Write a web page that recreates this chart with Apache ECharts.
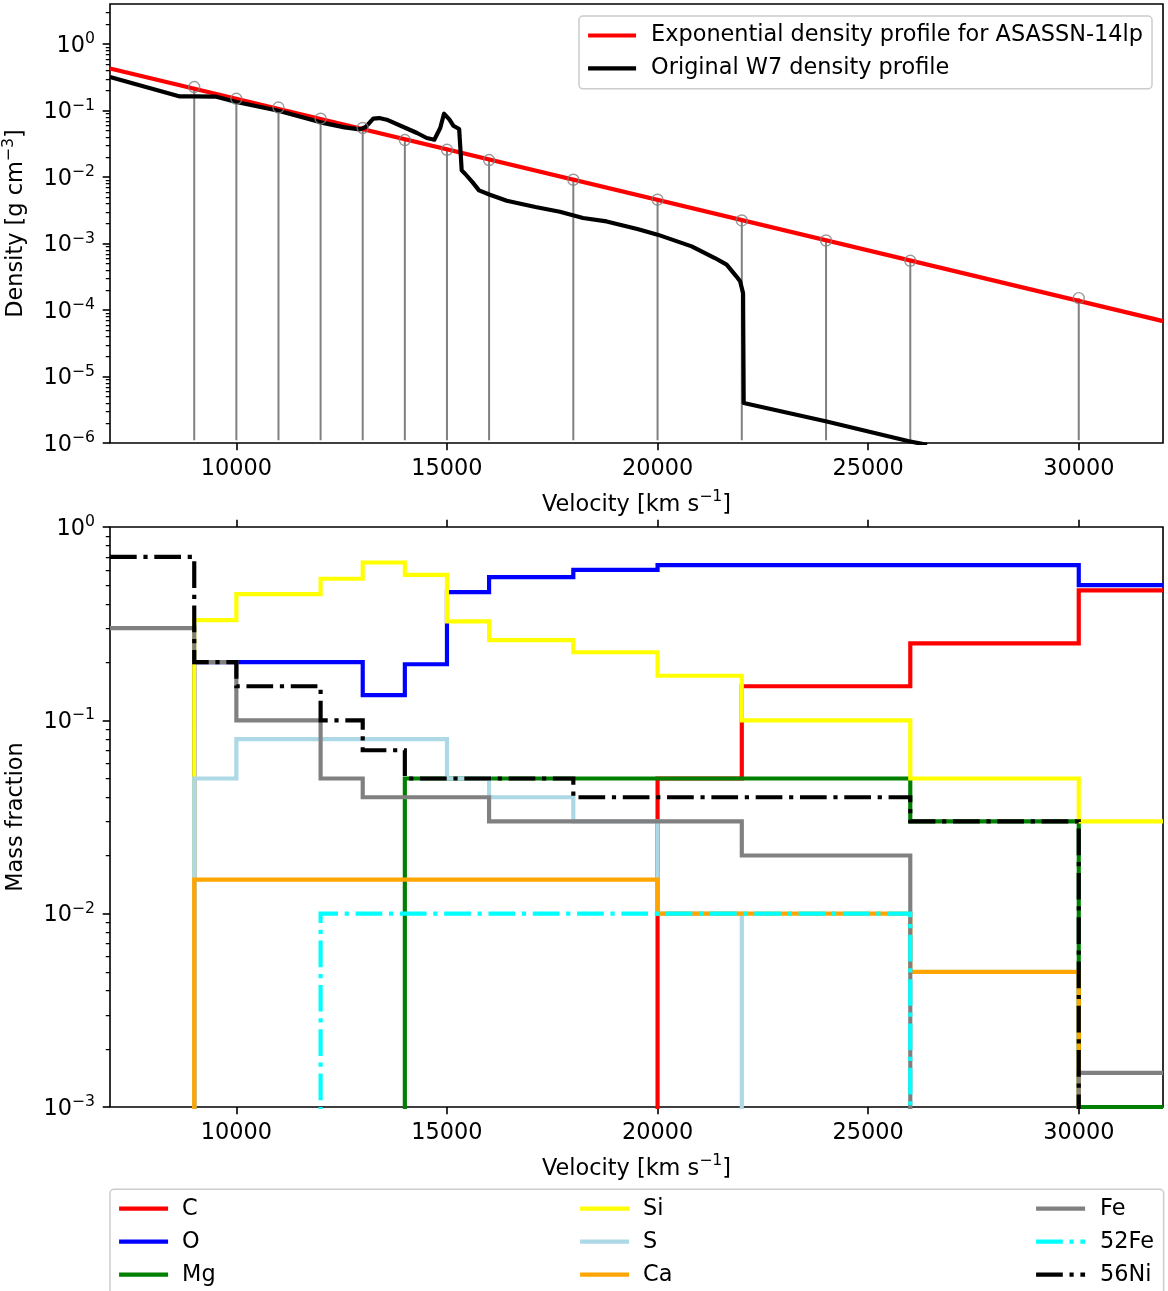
<!DOCTYPE html>
<html>
<head>
<meta charset="utf-8">
<script src="https://cdn.jsdelivr.net/npm/echarts@6/dist/echarts.min.js"></script>
<style>html,body{margin:0;padding:0;background:#fff}#c{width:1168px;height:1291px}</style>
</head>
<body>
<div id="c"></div>
<script>
// ---------------- data: top panel ----------------
const expVelocity = [7000, 32000];
const expDensity = [0.43, 6.8e-5];

const shellVelocity = [9000, 10000, 11000, 12000, 13000, 14000, 15000, 16000, 18000, 20000, 22000, 24000, 26000, 30000];
const shellDensity = [0.2256, 0.150, 0.111, 0.0753, 0.0546, 0.036, 0.0257, 0.018, 0.0091, 0.00456, 0.00222, 0.00111, 0.00055, 0.000151];
const stemBase = 1.1e-6;

const w7Velocity = [7000, 7850, 8660, 9000, 9500, 10000, 11000, 12000, 12570, 12930, 13070, 13250, 13390, 13570, 14020, 14290, 14520, 14700, 14840, 14930, 15060, 15150, 15290, 15350, 15430, 15610, 15760, 16020, 16420, 17100, 17680, 18230, 18790, 19520, 20000, 20810, 21360, 21640, 21870, 21960, 22030, 22045, 23990, 25970, 26400];
const w7Density = [0.32, 0.226, 0.163, 0.163, 0.162, 0.134, 0.0994, 0.0664, 0.0558, 0.052, 0.0565, 0.0754, 0.077, 0.0728, 0.0546, 0.0459, 0.0386, 0.0364, 0.0546, 0.0896, 0.0728, 0.0591, 0.0527, 0.0126, 0.0112, 0.0083, 0.0063, 0.00542, 0.0044, 0.00354, 0.0030, 0.00242, 0.00215, 0.00165, 0.00136, 0.000906, 0.000605, 0.000481, 0.000321, 0.00027, 0.00018, 4.0e-6, 2.12e-6, 1.06e-6, 9.4e-7];

// ---------------- data: bottom panel ----------------
// shell inner edges (value holds until next edge); last entry = right end of plot
const edgeVelocity = [7000, 9000, 10000, 11000, 12000, 13000, 14000, 15000, 16000, 18000, 20000, 22000, 24000, 26000, 30000, 32000];
const fracC    = [0, 0, 0, 0, 0, 0, 0, 0, 0, 0, 0.05, 0.15, 0.15, 0.25, 0.47];
const fracO    = [0, 0.2, 0.2, 0.2, 0.2, 0.135, 0.195, 0.46, 0.55, 0.6, 0.635, 0.635, 0.635, 0.635, 0.5];
const fracMg   = [0, 0, 0, 0, 0, 0, 0.05, 0.05, 0.05, 0.05, 0.05, 0.05, 0.05, 0.03, 0.001];
const fracSi   = [0, 0.33, 0.45, 0.45, 0.54, 0.655, 0.565, 0.325, 0.26, 0.225, 0.17, 0.1, 0.1, 0.05, 0.03];
const fracS    = [0, 0.05, 0.08, 0.08, 0.08, 0.08, 0.08, 0.05, 0.04, 0.03, 0.01, 0, 0, 0, 0];
const fracCa   = [0, 0.015, 0.015, 0.015, 0.015, 0.015, 0.015, 0.015, 0.015, 0.015, 0.01, 0.01, 0.01, 0.005, 0];
const fracFe   = [0.3, 0.2, 0.1, 0.1, 0.05, 0.04, 0.04, 0.04, 0.03, 0.03, 0.03, 0.02, 0.02, 0, 0.0015];
const frac52Fe = [0, 0, 0, 0, 0.01, 0.01, 0.01, 0.01, 0.01, 0.01, 0.01, 0.01, 0.01, 0, 0];
const frac56Ni = [0.7, 0.2, 0.15, 0.15, 0.1, 0.07, 0.05, 0.05, 0.05, 0.04, 0.04, 0.04, 0.04, 0.03, 0];

// ---------------- axes / ticks ----------------
const velocityTicks = [10000, 15000, 20000, 25000, 30000];
const velocityMin = 7000, velocityMax = 32000;
const densityMin = 1e-6, densityMax = 4;
const fractionMin = 1e-3, fractionMax = 1;
const densityDecades = [-6, -5, -4, -3, -2, -1, 0];
const fractionDecades = [-3, -2, -1, 0];

// ---------------- styles ----------------
const FONT = 'DejaVu Sans';
const FS = 22.4;
const SFS = 15.7;
const LW = 4.17;
const DASHDOT = [26.7, 6.7, 4.2, 6.7];
const FLOOR = 1e-6;

function minorTicks(minExp, maxVal) {
  const out = [];
  const maxLog = Math.log10(maxVal);
  for (let n = minExp; n <= Math.ceil(maxLog); n++) {
    for (let k = 2; k <= 9; k++) {
      const t = n + Math.log10(k);
      if (t > minExp && t < maxLog - 1e-9) out.push(t);
    }
  }
  return out;
}
function powLabel(v) {
  const e = Math.log10(v);
  const r = Math.round(e);
  if (Math.abs(e - r) > 1e-6) return '';
  return '{b|10}{s|' + (r < 0 ? '\u2212' + (-r) : String(r)) + '}';
}
const powRich = {
  b: { fontFamily: FONT, fontSize: FS, color: '#000', lineHeight: 26, verticalAlign: 'bottom' },
  s: { fontFamily: FONT, fontSize: SFS, color: '#000', lineHeight: 17, verticalAlign: 'top' }
};
const nameStyle = {
  fontFamily: FONT, fontSize: FS, color: '#000', lineHeight: 32,
  rich: { s: { fontFamily: FONT, fontSize: SFS, color: '#000', lineHeight: 15, verticalAlign: 'top' } }
};
function stepData(vals) {
  return edgeVelocity.map((v, i) => {
    const f = vals[Math.min(i, vals.length - 1)];
    return [v, f > 0 ? f : FLOOR];
  });
}

const species = [
  { name: 'C', color: '#ff0000', vals: fracC, dash: false },
  { name: 'O', color: '#0000ff', vals: fracO, dash: false },
  { name: 'Mg', color: '#008000', vals: fracMg, dash: false },
  { name: 'Si', color: '#ffff00', vals: fracSi, dash: false },
  { name: 'S', color: '#add8e6', vals: fracS, dash: false },
  { name: 'Ca', color: '#ffa500', vals: fracCa, dash: false },
  { name: 'Fe', color: '#808080', vals: fracFe, dash: false },
  { name: '52Fe', color: '#00ffff', vals: frac52Fe, dash: true },
  { name: '56Ni', color: '#000000', vals: frac56Ni, dash: true }
];

function xAxisCfg(grid, showLabel, pos) {
  return {
    type: 'value', gridIndex: grid, position: pos, min: velocityMin, max: velocityMax,
    axisLine: { show: false, onZero: false }, splitLine: { show: false },
    axisTick: { show: true, customValues: velocityTicks, length: 7.3, lineStyle: { color: '#000', width: 1.6 } },
    axisLabel: { show: showLabel, customValues: velocityTicks, margin: 15, fontFamily: FONT, fontSize: FS, color: '#000',
                 formatter: v => String(Math.round(v)) },
    name: showLabel ? 'Velocity [km s{s|\u22121}]' : '', nameLocation: 'middle', nameGap: 46, nameTextStyle: nameStyle
  };
}
function yAxesCfg(grid, minV, maxV, decades, name) {
  const lo = Math.log10(minV), hi = Math.log10(maxV);
  return [
    {
      type: 'log', gridIndex: grid, position: 'left', min: minV, max: maxV, logBase: 10,
      axisLine: { show: false, onZero: false }, splitLine: { show: false }, axisTick: { show: false }, minorTick: { show: false },
      axisLabel: { formatter: powLabel, rich: powRich, margin: 15, fontFamily: FONT, fontSize: FS, color: '#000' },
      name: name, nameLocation: 'middle', nameGap: 63, nameRotate: 90, nameTextStyle: nameStyle
    },
    {
      type: 'value', gridIndex: grid, position: 'left', min: lo, max: hi,
      axisLine: { show: false, onZero: false }, splitLine: { show: false }, axisLabel: { show: false },
      axisTick: { show: true, customValues: decades, length: 7.3, lineStyle: { color: '#000', width: 1.6 } }
    },
    {
      type: 'value', gridIndex: grid, position: 'left', min: lo, max: hi,
      axisLine: { show: false, onZero: false }, splitLine: { show: false }, axisLabel: { show: false },
      axisTick: { show: true, customValues: minorTicks(Math.round(lo), maxV), length: 4.2, lineStyle: { color: '#000', width: 1.25 } }
    }
  ];
}

const series = [
  {
    type: 'custom', name: 'stems', xAxisIndex: 0, yAxisIndex: 0, z: 1,
    data: shellVelocity.map((v, i) => [v, shellDensity[i], stemBase]),
    renderItem: function (params, api) {
      const p1 = api.coord([api.value(0), api.value(2)]);
      const p2 = api.coord([api.value(0), api.value(1)]);
      return { type: 'line', shape: { x1: p1[0], y1: p1[1], x2: p2[0], y2: p2[1] }, style: { stroke: '#808080', lineWidth: 2 } };
    }
  },
  {
    type: 'line', name: 'Exponential density profile for ASASSN-14lp', xAxisIndex: 0, yAxisIndex: 0,
    data: expVelocity.map((v, i) => [v, expDensity[i]]), symbol: 'none', clip: true,
    lineStyle: { color: '#ff0000', width: LW }, itemStyle: { color: '#ff0000' }
  },
  {
    type: 'line', name: 'Original W7 density profile', xAxisIndex: 0, yAxisIndex: 0,
    data: w7Velocity.map((v, i) => [v, w7Density[i]]), symbol: 'none', clip: true,
    lineStyle: { color: '#000000', width: LW, join: 'round' }, itemStyle: { color: '#000000' }
  },
  {
    type: 'scatter', name: 'shells', xAxisIndex: 0, yAxisIndex: 0, z: 5,
    data: shellVelocity.map((v, i) => [v, shellDensity[i]]), symbol: 'circle', symbolSize: 11,
    itemStyle: { color: 'rgba(0,0,0,0)', borderColor: '#808080', borderWidth: 1.4 }
  }
];
species.forEach(sp => {
  series.push({
    type: 'line', name: sp.name, xAxisIndex: 1, yAxisIndex: 3, step: 'end',
    data: stepData(sp.vals), symbol: 'none', clip: true,
    lineStyle: { color: sp.color, width: LW, type: sp.dash ? DASHDOT : 'solid', join: 'miter' },
    itemStyle: { color: sp.color }
  });
});

function legendItems(names) {
  return names.map(n => {
    const sp = species.find(s => s.name === n);
    return { name: n, lineStyle: { color: sp.color, width: LW, type: sp.dash ? DASHDOT : 'solid' } };
  });
}
const legendText = (pad) => ({ fontFamily: FONT, fontSize: FS, color: '#000', lineHeight: 26, padding: [0, 0, 0, pad] });

const option = {
  animation: false,
  backgroundColor: '#ffffff',
  grid: [
    { left: 110, top: 4, width: 1053, height: 439, show: true, borderColor: '#000', borderWidth: 1.6, backgroundColor: 'rgba(0,0,0,0)', containLabel: false, outerBoundsMode: 'none' },
    { left: 110, top: 527, width: 1053, height: 580, show: true, borderColor: '#000', borderWidth: 1.6, backgroundColor: 'rgba(0,0,0,0)', containLabel: false, outerBoundsMode: 'none' }
  ],
  xAxis: [xAxisCfg(0, true, 'bottom'), xAxisCfg(1, true, 'bottom'), xAxisCfg(1, false, 'top')],
  yAxis: [].concat(
    yAxesCfg(0, densityMin, densityMax, densityDecades, 'Density [g cm{s|\u22123}]'),
    yAxesCfg(1, fractionMin, fractionMax, fractionDecades, 'Mass fraction')
  ),
  legend: [
    {
      data: [
        { name: 'Exponential density profile for ASASSN-14lp', lineStyle: { color: '#ff0000', width: LW } },
        { name: 'Original W7 density profile', lineStyle: { color: '#000000', width: LW } }
      ],
      orient: 'vertical', left: 579, top: 16, height: 100, itemWidth: 48, itemHeight: 12, itemGap: 6.8,
      padding: [6.5, 9, 7.5, 7], borderColor: '#cccccc', borderWidth: 1.5, borderRadius: 4,
      backgroundColor: 'rgba(255,255,255,0.8)', selectedMode: false,
      itemStyle: { opacity: 0 }, textStyle: legendText(10)
    },
    {
      data: legendItems(['C', 'O', 'Mg']),
      orient: 'vertical', left: 110, top: 1189.3, height: 140, itemWidth: 49, itemHeight: 12, itemGap: 7,
      padding: [6.4, 948, 12, 7], borderColor: '#cccccc', borderWidth: 1.5, borderRadius: 4,
      backgroundColor: 'rgba(255,255,255,0.8)', selectedMode: false,
      itemStyle: { opacity: 0 }, textStyle: legendText(9)
    },
    {
      data: legendItems(['Si', 'S', 'Ca']),
      orient: 'vertical', left: 578, top: 1195.7, height: 120, itemWidth: 49, itemHeight: 12, itemGap: 7,
      padding: 0, selectedMode: false, itemStyle: { opacity: 0 }, textStyle: legendText(9)
    },
    {
      data: legendItems(['Fe', '52Fe', '56Ni']),
      orient: 'vertical', left: 1034, top: 1195.7, height: 120, itemWidth: 49, itemHeight: 12, itemGap: 7,
      padding: 0, selectedMode: false, itemStyle: { opacity: 0 }, textStyle: legendText(10)
    }
  ],
  series: series
};

const chart = echarts.init(document.getElementById('c'), null, { renderer: 'canvas' });
chart.setOption(option);
</script>
</body>
</html>
